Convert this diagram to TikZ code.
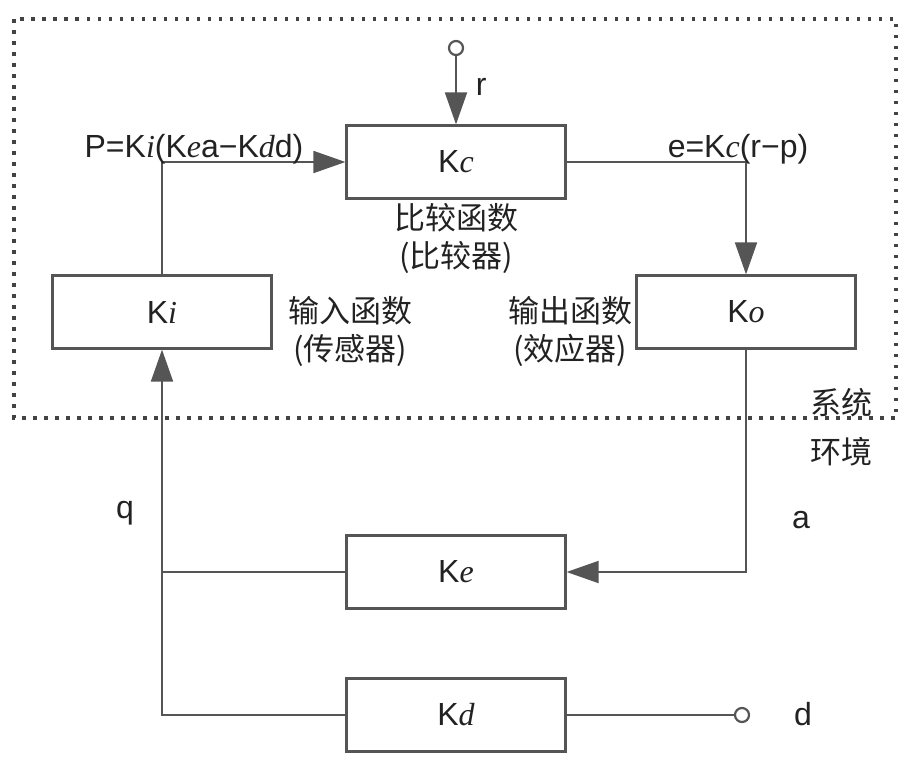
\documentclass[tikz,border=0pt]{standalone}
\usepackage{fontspec}
\setmainfont{Liberation Sans}
\newfontfamily\cjk{Noto Sans CJK SC}
\newfontfamily\slant{Liberation Serif}
\usetikzlibrary{arrows.meta}
\definecolor{wire}{HTML}{555555}
\definecolor{ink}{HTML}{222222}
\def\boxw{219pt}
\def\boxh{73pt}
\newcommand{\gain}[1]{K{\slant\itshape #1}}
\newcommand{\blk}[2]{node[draw,line width=2.2pt,minimum width=\boxw,minimum height=\boxh,font=\fontsize{32}{36}\selectfont](#1){#2}}
\newcommand{\term}[1]{node[draw,circle,fill=white,line width=2.2pt,inner sep=0pt,minimum size=14pt](#1){}}
\newcommand{\cn}[2]{node[font=\cjk\fontsize{31}{38}\selectfont,align=center](#1){#2}}

\begin{document}
\begin{tikzpicture}[x=1pt,y=-1pt,line width=1.8pt,color=wire,
  every node/.style={text=ink},
  arr/.style={-{Triangle[length=32pt,width=22pt]}},
  lbl/.style={font=\fontsize{32}{36}\selectfont,inner sep=0pt}]
\useasboundingbox (0,0) rectangle (918,766);
% system border
\draw[ink!85,line width=3.5pt,dash pattern=on 3.5pt off 7.5pt] (14,19) rectangle (896,418);
% blocks
\path (456,162) \blk{kc}{\gain{c}} (162,312) \blk{ki}{\gain{i}} (746,312) \blk{ko}{\gain{o}};
\path (456,572) \blk{ke}{\gain{e}} (456,715) \blk{kd}{\gain{d}};
\path (456,48) \term{rin} (742,715) \term{din};
% signals
\draw[arr] (rin) -- (kc.north);
\draw[arr] (ki.north) |- (kc.west);
\draw[arr] (kc.east) -| (ko.north);
\draw[arr] (ko.south) |- (ke.east);
\draw[arr] (kd.west) -| (ki.south);
\draw (ke.west) -- (ke.west -| ki.south);
\draw (kd.east) -- (din);
% labels
\node[lbl,anchor=base] (pl) at (194,157) {P=\gain{i}(\gain{e}a\textminus\gain{d}d)};
\node[lbl,anchor=base] (el) at (738,157) {e=\gain{c}(r\textminus p)};
\node[lbl,anchor=base west] (rl) at (475,95) {r};
\node[lbl] (ql) at (125,513) {q};
\node[lbl] (al) at (801,520) {a};
\node[lbl] (dl) at (803,714) {d};
\path (456,238) \cn{cmp}{比较函数\\(比较器)};
\path (350,331) \cn{inp}{输入函数\\(传感器)};
\path (570,331) \cn{outp}{输出函数\\(效应器)};
\path (841,403) \cn{sys}{系统};
\path (841,452) \cn{env}{环境};
\end{tikzpicture}
\end{document}
